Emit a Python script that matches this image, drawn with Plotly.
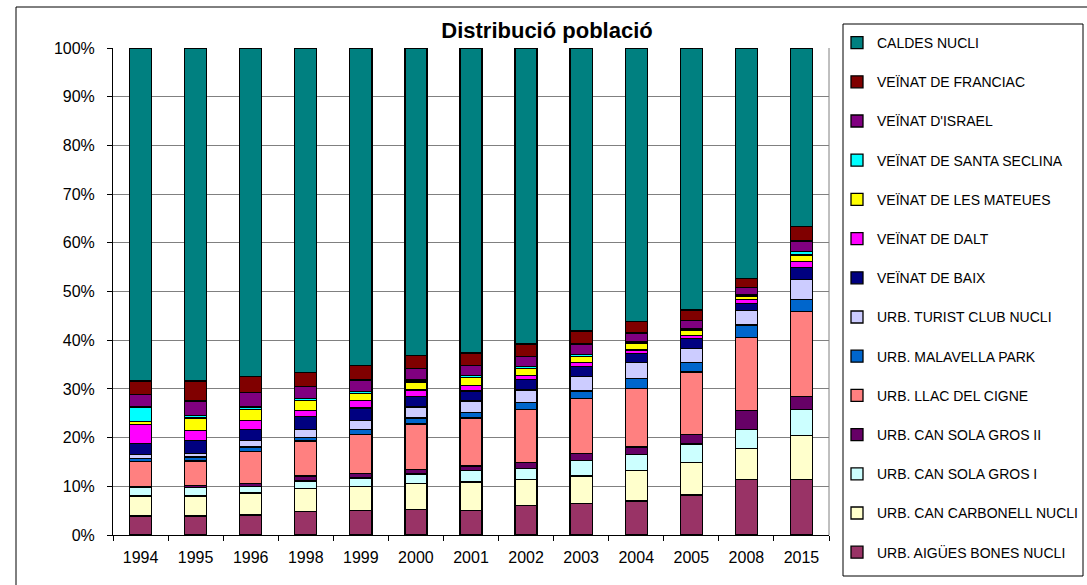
import plotly.graph_objects as go

years = ["1994", "1995", "1996", "1998", "1999", "2000", "2001", "2002", "2003", "2004", "2005", "2008", "2015"]

# series, bottom of stack first
aigues_bones = [3.9, 3.9, 4.1, 4.8, 5.1, 5.3, 5.1, 6.0, 6.5, 7.0, 8.2, 11.4, 11.4]
can_carbonell = [4.1, 4.1, 4.5, 4.7, 4.9, 5.3, 5.8, 5.4, 5.6, 6.2, 6.7, 6.4, 9.1]
can_sola_gros_i = [1.7, 1.7, 1.3, 1.6, 1.7, 1.9, 2.3, 2.3, 3.2, 3.4, 3.8, 3.8, 5.2]
can_sola_gros_ii = [0.3, 0.4, 0.7, 1.0, 0.9, 1.0, 1.0, 1.2, 1.5, 1.5, 2.0, 3.9, 2.7]
llac_del_cigne = [5.1, 5.1, 6.5, 7.2, 8.1, 9.3, 9.8, 10.8, 11.3, 12.0, 12.8, 15.0, 17.5]
malavella_park = [0.6, 0.8, 1.0, 0.7, 1.0, 1.2, 1.2, 1.5, 1.5, 2.1, 1.9, 2.6, 2.5]
turist_club = [0.8, 0.8, 1.3, 1.7, 1.8, 2.3, 2.3, 2.6, 2.9, 3.2, 2.9, 3.0, 4.1]
veinat_baix = [2.3, 2.6, 2.3, 2.6, 2.6, 2.1, 2.1, 2.2, 2.1, 1.8, 2.0, 1.5, 2.5]
veinat_dalt = [3.9, 2.0, 1.8, 1.2, 1.5, 1.4, 1.1, 0.8, 0.8, 0.8, 0.6, 0.7, 1.1]
les_mateues = [0.6, 2.6, 2.3, 2.1, 1.4, 1.6, 1.7, 1.4, 1.3, 1.4, 1.2, 0.8, 1.4]
santa_seclina = [3.0, 0.6, 0.5, 0.5, 0.4, 0.4, 0.3, 0.4, 0.3, 0.3, 0.3, 0.2, 0.7]
israel = [2.6, 2.9, 3.0, 2.4, 2.4, 2.4, 2.1, 2.0, 2.2, 1.8, 1.7, 1.5, 2.2]
franciac = [2.7, 4.1, 3.3, 2.8, 3.0, 2.6, 2.6, 2.6, 2.7, 2.3, 2.1, 1.8, 3.0]
caldes_nucli = [68.4, 68.4, 67.4, 66.7, 65.2, 63.2, 62.6, 60.8, 58.1, 56.2, 53.8, 47.4, 36.6]

y_ticks = [0, 10, 20, 30, 40, 50, 60, 70, 80, 90, 100]
y_tick_labels = [f"{v}%" for v in y_ticks]

series = [
    ("URB. AIGÜES BONES NUCLI", aigues_bones, "#993366"),
    ("URB. CAN CARBONELL NUCLI", can_carbonell, "#FFFFCC"),
    ("URB. CAN SOLA GROS I", can_sola_gros_i, "#CCFFFF"),
    ("URB. CAN SOLA GROS II", can_sola_gros_ii, "#660066"),
    ("URB. LLAC DEL CIGNE", llac_del_cigne, "#FF8080"),
    ("URB. MALAVELLA PARK", malavella_park, "#0066CC"),
    ("URB. TURIST CLUB NUCLI", turist_club, "#CCCCFF"),
    ("VEÏNAT DE BAIX", veinat_baix, "#000080"),
    ("VEÏNAT DE DALT", veinat_dalt, "#FF00FF"),
    ("VEÏNAT DE LES MATEUES", les_mateues, "#FFFF00"),
    ("VEÏNAT DE SANTA SECLINA", santa_seclina, "#00FFFF"),
    ("VEÏNAT D'ISRAEL", israel, "#800080"),
    ("VEÏNAT DE FRANCIAC", franciac, "#800000"),
    ("CALDES NUCLI", caldes_nucli, "#008080"),
]

FONT = "Liberation Sans, Arial, sans-serif"

fig = go.Figure()
n = len(series)
for i, (name, vals, color) in enumerate(series):
    fig.add_trace(go.Bar(
        x=years, y=vals, name=name, legendgroup=name, legendrank=n - i,
        marker=dict(color=color, line=dict(color="#000000", width=1.3)),
    ))

W, H = 1087, 585
L, R, T, B = 113, 829, 48, 535


def px(x):
    return (x - L) / (R - L)


def py(y):
    return (B - y) / (B - T)


shapes = [
    # outer chart frame
    dict(type="rect", xref="paper", yref="paper", x0=px(16), x1=px(1095), y0=py(7), y1=py(595),
         line=dict(color="#000000", width=1), fillcolor="rgba(0,0,0,0)", layer="below"),
    # legend frame
    dict(type="rect", xref="paper", yref="paper", x0=px(843), x1=px(1083), y0=py(24), y1=py(576),
         line=dict(color="#000000", width=1), fillcolor="rgba(0,0,0,0)", layer="below"),
    # plot area border (right side gray)
    dict(type="line", xref="paper", yref="paper", x0=1, x1=1, y0=0, y1=1,
         line=dict(color="#808080", width=1), layer="below"),
]

fig.update_layout(
    width=W, height=H,
    margin=dict(l=L, r=W - R, t=T, b=H - B, pad=0, autoexpand=False),
    paper_bgcolor="white", plot_bgcolor="white",
    barmode="stack", barnorm="percent",
    bargap=0.6,
    font=dict(family=FONT, color="#000000"),
    title=dict(text="<b>Distribució població</b>", x=px(547), xref="paper", xanchor="center",
               y=1 - 30 / H, yanchor="middle", font=dict(family=FONT, size=22, color="#000000")),
    showlegend=True,
    legend=dict(x=px(837), xanchor="left", y=py(27), yanchor="top",
                traceorder="grouped", tracegroupgap=18, maxheight=1.0,
                font=dict(family=FONT, size=14, color="#000000"),
                bgcolor="rgba(0,0,0,0)", borderwidth=0),
    shapes=shapes,
    xaxis=dict(showline=True, linecolor="#000000", linewidth=1, ticks="outside", ticklen=5,
               tickcolor="#000000", tickson="boundaries", showgrid=False, ticklabelstandoff=8,
               tickfont=dict(family=FONT, size=16, color="#000000")),
    yaxis=dict(range=[0, 100], tickvals=y_ticks, ticktext=y_tick_labels, showline=True,
               linecolor="#000000", linewidth=1, ticks="outside", ticklen=5, tickcolor="#000000",
               showgrid=True, gridcolor="#808080", gridwidth=1, zeroline=False,
               ticklabelstandoff=9,
               tickfont=dict(family=FONT, size=16, color="#000000")),
)

fig.write_html(
    "out.html",
    config={"displayModeBar": False},
    post_script="document.body.style.margin='0px'; document.body.style.padding='0px';",
)
